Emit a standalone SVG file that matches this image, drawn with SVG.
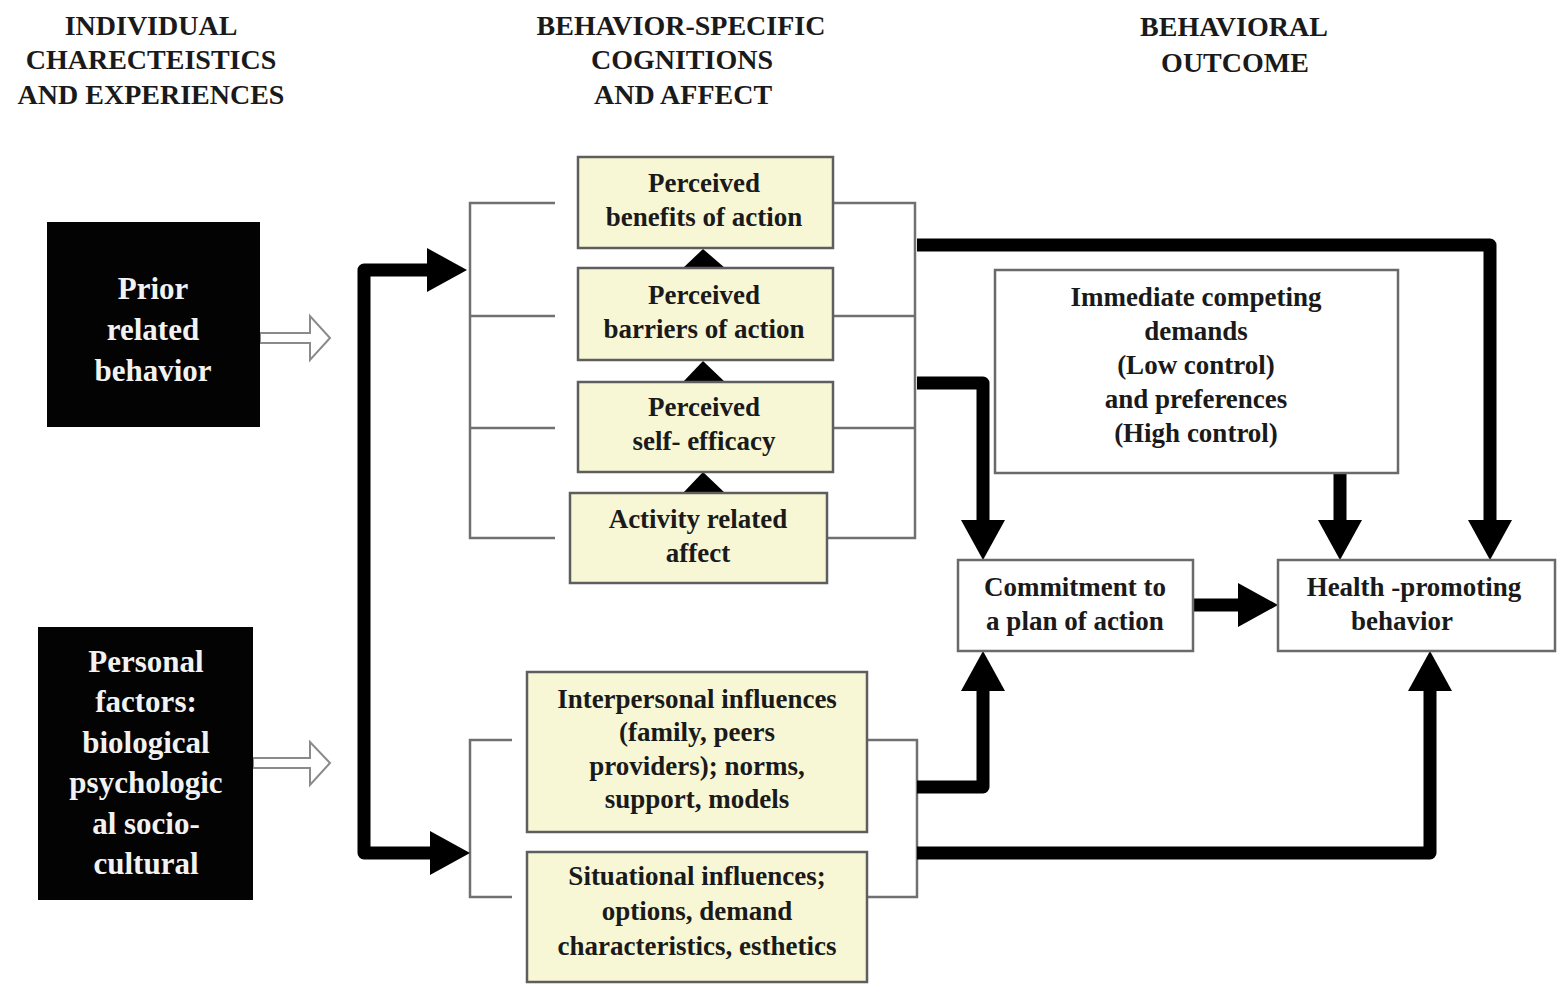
<svg xmlns="http://www.w3.org/2000/svg" width="1557" height="985" viewBox="0 0 1557 985">
<defs>
<style>
.hdr{font-family:"Liberation Serif","Times New Roman",serif;font-weight:bold;font-size:28px;fill:#1a1a1a;text-anchor:middle}
.bt{font-family:"Liberation Serif","Times New Roman",serif;font-weight:bold;font-size:27px;fill:#1a1a1a;text-anchor:middle}
.wt{font-family:"Liberation Serif","Times New Roman",serif;font-weight:bold;font-size:31px;fill:#f2f2f2;text-anchor:middle}
.dark{fill:#030303}
.cog{fill:#f8f7d5;stroke:#5e5e5e;stroke-width:2.5}
.out{fill:#ffffff;stroke:#6a6a6a;stroke-width:2.5}
.thin{fill:none;stroke:#707070;stroke-width:2.5}
.thick{fill:none;stroke:#000;stroke-width:13;stroke-linejoin:round;marker-end:url(#ah)}
.hollow{fill:#fff;stroke:#8a8a8a;stroke-width:2}
.tri{fill:#000}
</style>
<marker id="ah" markerUnits="userSpaceOnUse" viewBox="0 0 40 44" refX="20" refY="22" markerWidth="40" markerHeight="44" orient="auto">
<path d="M0,0 L40,22 L0,44 Z" fill="#000"/>
</marker>
</defs>
<rect width="1557" height="985" fill="#fff"/>

<g id="headers">
<text class="hdr" x="151" y="35">INDIVIDUAL</text>
<text class="hdr" x="151" y="69">CHARECTEISTICS</text>
<text class="hdr" x="151" y="104">AND EXPERIENCES</text>
<text class="hdr" x="681" y="35">BEHAVIOR-SPECIFIC</text>
<text class="hdr" x="682" y="69">COGNITIONS</text>
<text class="hdr" x="683" y="104">AND AFFECT</text>
<text class="hdr" x="1234" y="36">BEHAVIORAL</text>
<text class="hdr" x="1235" y="72">OUTCOME</text>
</g>

<g id="connectors">
<!-- thin brackets -->
<path class="thin" d="M555,203 H470 V538 H555 M470,316 H555 M470,428 H555"/>
<path class="thin" d="M833,203 H915 V538 H827 M833,316 H915 M833,428 H915"/>
<path class="thin" d="M512,740 H470 V897 H512"/>
<path class="thin" d="M867,740 H917 V897 H867"/>
<!-- hollow arrows -->
<polygon class="hollow" points="260,333 310,333 310,316 330,338 310,360 310,343 260,343"/>
<polygon class="hollow" points="253,758 310,758 310,742 330,763 310,785 310,768 253,768"/>
<!-- small triangles between cognition boxes -->
<polygon class="tri" points="703,249 725,268 683,268"/>
<polygon class="tri" points="703,361 725,382 683,382"/>
<polygon class="tri" points="703,472 725,493 683,493"/>
<!-- thick connectors -->
<path class="thick" d="M364,560 V270 H447"/>
<path class="thick" d="M364,560 V853 H450"/>
<path class="thick" d="M917,245 H1490 V540"/>
<path class="thick" d="M917,383 H983 V540"/>
<path class="thick" d="M1340,473 V540"/>
<path class="thick" d="M1193,605 H1258"/>
<path class="thick" d="M917,787 H983 V671"/>
<path class="thick" d="M917,853 H1430 V671"/>
</g>

<g id="prior-behavior">
<rect class="dark" x="47" y="222" width="213" height="205"/>
<text class="wt" x="153" y="299">Prior</text>
<text class="wt" x="153" y="340">related</text>
<text class="wt" x="153" y="381">behavior</text>
</g>

<g id="personal-factors">
<rect class="dark" x="38" y="627" width="215" height="273"/>
<text class="wt" x="146" y="672">Personal</text>
<text class="wt" x="146" y="712">factors:</text>
<text class="wt" x="146" y="753">biological</text>
<text class="wt" x="146" y="793">psychologic</text>
<text class="wt" x="146" y="834">al socio-</text>
<text class="wt" x="146" y="874">cultural</text>
</g>

<g id="benefits">
<rect class="cog" x="578" y="157" width="255" height="91"/>
<text class="bt" x="704" y="192">Perceived</text>
<text class="bt" x="704" y="226">benefits of action</text>
</g>

<g id="barriers">
<rect class="cog" x="578" y="268" width="255" height="92"/>
<text class="bt" x="704" y="304">Perceived</text>
<text class="bt" x="704" y="338">barriers of action</text>
</g>

<g id="self-efficacy">
<rect class="cog" x="578" y="382" width="255" height="90"/>
<text class="bt" x="704" y="416">Perceived</text>
<text class="bt" x="704" y="450">self- efficacy</text>
</g>

<g id="activity-affect">
<rect class="cog" x="570" y="493" width="257" height="90"/>
<text class="bt" x="698" y="528">Activity related</text>
<text class="bt" x="698" y="562">affect</text>
</g>

<g id="interpersonal">
<rect class="cog" x="527" y="672" width="340" height="160"/>
<text class="bt" x="697" y="708">Interpersonal influences</text>
<text class="bt" x="697" y="741">(family, peers</text>
<text class="bt" x="697" y="775">providers); norms,</text>
<text class="bt" x="697" y="808">support, models</text>
</g>

<g id="situational">
<rect class="cog" x="527" y="852" width="340" height="130"/>
<text class="bt" x="697" y="885">Situational influences;</text>
<text class="bt" x="697" y="920">options, demand</text>
<text class="bt" x="697" y="955">characteristics, esthetics</text>
</g>

<g id="competing-demands">
<rect class="out" x="995" y="270" width="403" height="203"/>
<text class="bt" x="1196" y="306">Immediate competing</text>
<text class="bt" x="1196" y="340">demands</text>
<text class="bt" x="1196" y="374">(Low control)</text>
<text class="bt" x="1196" y="408">and preferences</text>
<text class="bt" x="1196" y="442">(High control)</text>
</g>

<g id="commitment">
<rect class="out" x="958" y="560" width="235" height="91"/>
<text class="bt" x="1075" y="596">Commitment to</text>
<text class="bt" x="1075" y="630">a plan of action</text>
</g>

<g id="health-behavior">
<rect class="out" x="1278" y="560" width="277" height="91"/>
<text class="bt" x="1414" y="596">Health -promoting</text>
<text class="bt" x="1402" y="630">behavior</text>
</g>
</svg>
